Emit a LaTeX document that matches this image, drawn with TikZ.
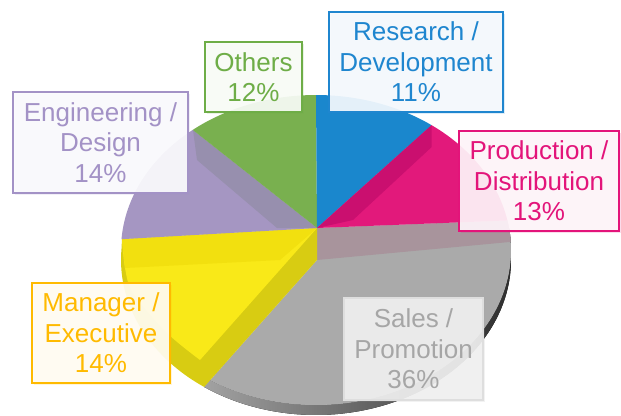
\documentclass[tikz,border=0pt]{standalone}
\usepackage{fontspec}
\setmainfont{Liberation Sans}
\usetikzlibrary{shadows}
\definecolor{cBlue}{HTML}{1A87CD}
\definecolor{cPink}{HTML}{E2197B}
\definecolor{cPinkD}{HTML}{CA0F6F}
\definecolor{cGray}{HTML}{AAAAAA}
\definecolor{cMauve}{HTML}{A8949C}
\definecolor{cYellow}{HTML}{F9E918}
\definecolor{cYellowT}{HTML}{F2E00F}
\definecolor{cYellowD}{HTML}{D8CC12}
\definecolor{cPurple}{HTML}{A596C2}
\definecolor{cPurpleD}{HTML}{978FAE}
\definecolor{cGreen}{HTML}{79B04F}
\definecolor{sideL}{HTML}{A2A2A2}
\definecolor{sideM}{HTML}{999999}
\definecolor{sideR}{HTML}{2E2E2E}
\definecolor{tGreen}{HTML}{6EAD47}
\definecolor{tPurple}{HTML}{A392C6}
\definecolor{tBlue}{HTML}{1F86CF}
\definecolor{tPink}{HTML}{E3147A}
\definecolor{tGold}{HTML}{FFBA00}
\definecolor{tGray}{HTML}{A6A6A6}
\definecolor{bGray}{HTML}{DEDEDE}
\begin{document}
\begin{tikzpicture}[x=1pt,y=-1pt,
  labelbox/.style={draw=#1, text=#1, line width=2.6pt, fill=#1!4!white,
    fill opacity=0.92, text opacity=1, inner sep=0pt, align=center,
    font=\fontsize{26}{30.5}\selectfont,
    drop shadow={shadow xshift=2pt, shadow yshift=-2pt, opacity=0.15, fill=#1}},
  slice/.style={fill=#1}]
\useasboundingbox (0,0) rectangle (621,415);
% side wall of the pie (grey)
\fill[left color=sideL, middle color=sideM, right color=sideR]
  plot[domain=-8:125,samples=60] ({316+195*cos(\x)},{260+155*sin(\x)})
  -- plot[domain=125:-8,samples=60] ({316+195*cos(\x)},{250+155*sin(\x)}) -- cycle;
% grey slice
\fill[slice=cGray] (317,228) -- plot[domain=-11:125,samples=60] ({316+195*cos(\x)},{250+155*sin(\x)}) -- (204,387) -- (317,260) -- cycle;
\fill[slice=cMauve] (317,228) -- plot[domain=-11:-3,samples=10] ({316+195*cos(\x)},{250+155*sin(\x)}) -- (317,260) -- cycle;
% yellow slice (side + top)
\fill[slice=cYellowD] (317,228) -- (317,260) -- plot[domain=125:184,samples=40] ({316+195*cos(\x)},{260+155*sin(\x)}) -- (122,239) -- cycle;
\fill[slice=cYellow] (317,228) -- (122,239) -- plot[smooth] coordinates {(122,239) (125,268) (133,293) (167,333) (200,360)} -- cycle;
\fill[slice=cYellowT] (317,228) -- (122,239) -- (125,268) -- (280,260) -- cycle;
% purple slice
\fill[slice=cPurple] (317,228) -- plot[domain=184:230.8,samples=30] ({316+195*cos(\x)},{250+155*sin(\x)}) -- cycle;
\fill[slice=cPurpleD] (193,130) -- (317,228) -- (277,228) -- (197,160) -- cycle;
% green slice
\fill[slice=cGreen] (317,228) -- plot[domain=230.8:270,samples=30] ({316+195*cos(\x)},{250+155*sin(\x)}) -- cycle;
% blue slice
\fill[slice=cBlue] (317,228) -- plot[domain=-90:-53.6,samples=30] ({316+195*cos(\x)},{250+155*sin(\x)}) -- cycle;
% pink slice
\fill[slice=cPink] (317,228) -- plot[domain=-53.6:-11,samples=30] ({316+195*cos(\x)},{250+155*sin(\x)}) -- cycle;
\fill[slice=cPinkD] (431.7,125) -- (431.7,147) -- (353,220) -- (317,228) -- cycle;
% labels
\node[labelbox=tGreen, minimum width=97pt, minimum height=70pt] (others) at (253.5,77) {Others\\12\%};
\node[labelbox=tPurple, minimum width=175pt, minimum height=101pt] (engineering) at (100.5,142.5) {Engineering /\\Design\\14\%};
\node[labelbox=tBlue, minimum width=174pt, minimum height=100pt] (research) at (416,62) {Research /\\Development\\11\%};
\node[labelbox=tPink, minimum width=160pt, minimum height=100pt] (production) at (539,181) {Production /\\Distribution\\13\%};
\node[labelbox=tGold, minimum width=138pt, minimum height=100pt] (manager) at (101,333) {Manager /\\Executive\\14\%};
\node[labelbox=tGray, draw=bGray, line width=2pt, fill=white!94!black, minimum width=139pt, minimum height=102pt] (sales) at (413.5,349) {Sales /\\Promotion\\36\%};
\end{tikzpicture}
\end{document}
